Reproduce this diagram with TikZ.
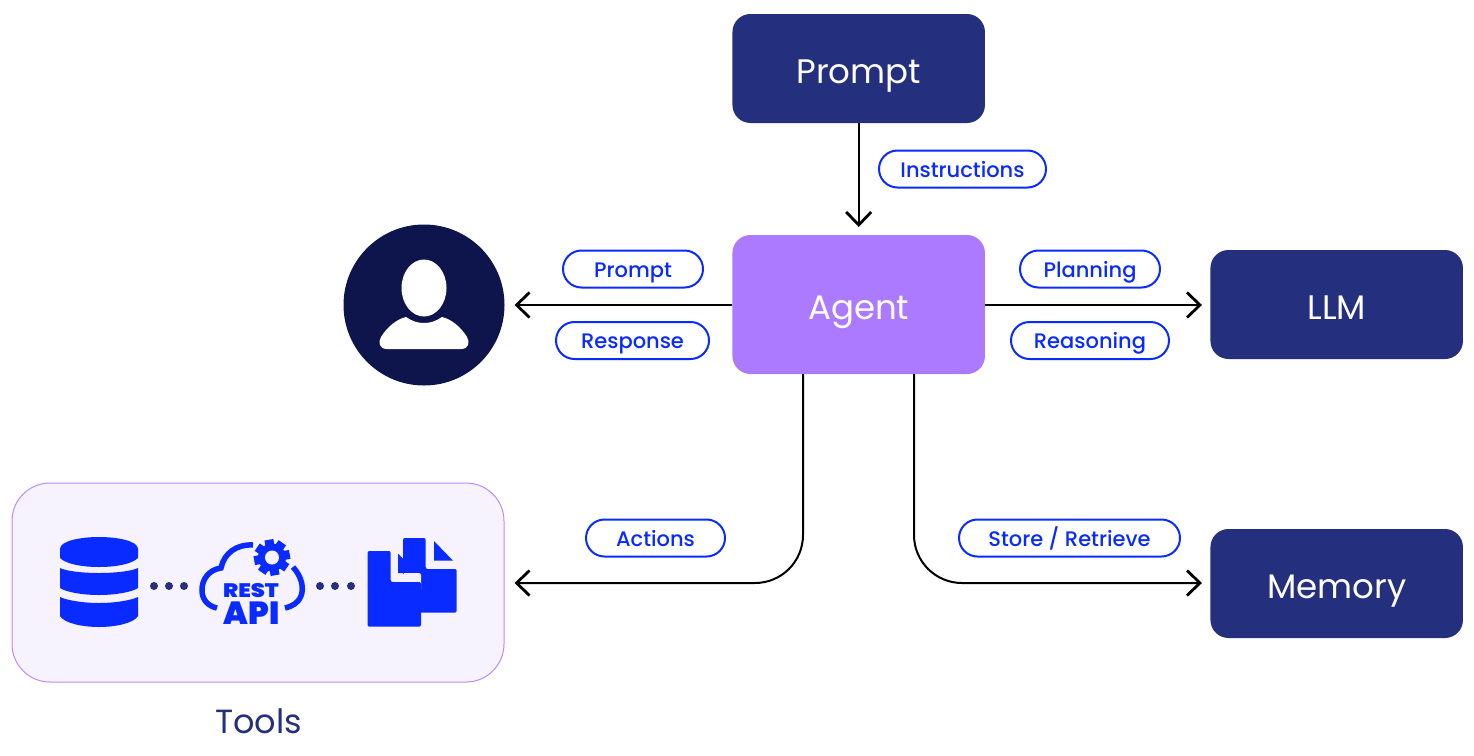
\documentclass[tikz,border=0pt]{standalone}
\usepackage{fontspec}
\setmainfont{Poppins}
\newfontfamily\medfont{Poppins Medium}
\newfontfamily\blackfont{Poppins Black}
\usetikzlibrary{arrows.meta}
\definecolor{navy}{HTML}{24307D}
\definecolor{deep}{HTML}{0E154D}
\definecolor{violet}{HTML}{AB7AFF}
\definecolor{blu}{HTML}{0A2BFF}
\definecolor{pale}{HTML}{F6F3FE}
\definecolor{edge}{HTML}{B98CFF}
\tikzset{
  x=1pt,y=-1pt,
  box/.style={rectangle,rounded corners=18pt,minimum width=252.5pt,minimum height=109pt,outer sep=0pt,fill=navy,text=white,text height=29pt,text depth=0pt,inner ysep=0pt,font=\fontsize{34}{40}\selectfont},
  pill/.style={rectangle,rounded corners=18.5pt,minimum height=37pt,outer sep=0pt,draw=blu,line width=2pt,fill=white,text=blu,text height=16.5pt,text depth=0pt,font=\fontsize{21}{26}\medfont,inner sep=0pt},
  conn/.style={draw=black,line width=2pt,-{Straight Barb[length=13pt,width=25pt,line width=2.8pt]}},
  icon/.style={fill=blu,draw=none},
}
\begin{document}
\begin{tikzpicture}
\useasboundingbox (0,0) rectangle (1474,755);
% boxes
\node[box] (prompt) at (858.7,68.5) {Prompt};
\node[box,fill=violet,minimum height=139pt] (agent) at (858.7,304.5) {Agent};
\node[box] (llm) at (1336.7,304.5) {LLM};
\node[box] (memory) at (1336.7,583.5) {Memory};
\node[circle,fill=deep,minimum size=161pt,inner sep=0pt,outer sep=0pt] (user) at (424,305) {};
\node[rectangle,rounded corners=38pt,draw=edge,line width=1pt,fill=pale,minimum width=492pt,minimum height=199pt,outer sep=0pt] (tools) at (258,582.5) {};
\node[text=navy,font=\fontsize{33.5}{40}\selectfont] (toolslabel) at (258.5,721) {Tools};
% connector ends
\coordinate (userend) at (514.5,305);
\coordinate (llmend) at (1202,305);
\coordinate (toolsend) at (514.5,583);
\coordinate (memend) at (1202,583);
\coordinate (agentend) at (858.7,227);
\coordinate (agentL) at (803,374);
\coordinate (agentR) at (914,374);
\coordinate (cornerL) at (803,583);
\coordinate (cornerR) at (914,583);
\draw[conn] (prompt.south) -- (agentend);
\draw[conn] (agent.west |- userend) -- (userend);
\draw[conn] (agent.east |- llmend) -- (llmend);
\draw[conn,rounded corners=48pt] (agentL) -- (cornerL) -- (toolsend);
\draw[conn,rounded corners=48pt] (agentR) -- (cornerR) -- (memend);
% pills
\node[pill,minimum width=167pt] (p1) at (962.5,169) {Instructions};
\node[pill,minimum width=140pt] (p2) at (633,269) {Prompt};
\node[pill,minimum width=153pt] (p3) at (632.5,340.5) {Response};
\node[pill,minimum width=140pt] (p4) at (1090,269) {Planning};
\node[pill,minimum width=158pt] (p5) at (1090,340.5) {Reasoning};
\node[pill,minimum width=139pt] (p6) at (655.5,538) {Actions};
\node[pill,minimum width=221pt] (p7) at (1069.5,538) {Store / Retrieve};
% user icon
\fill[white] (424,288) ellipse (22.5pt and 28.5pt);
\fill[white] (387,349) .. controls (379,349) and (378,342) .. (381,337)
  .. controls (387,327) and (397,319) .. (406,317)
  .. controls (412,321) and (417,323) .. (424,323)
  .. controls (431,323) and (436,321) .. (442,317)
  .. controls (451,319) and (461,327) .. (467,337)
  .. controls (470,342) and (469,349) .. (461,349) -- cycle;
% database
\fill[icon] (60,549) .. controls (60,541) and (80,537) .. (99,537) .. controls (118,537) and (138,541) .. (138,549)
  -- (138,558) .. controls (132,564) and (116,567) .. (99,567) .. controls (82,567) and (66,564) .. (60,558) -- cycle;
\fill[icon] (60,568) .. controls (66,571) and (82,573) .. (99,573) .. controls (116,573) and (132,571) .. (138,568)
  -- (138,588) .. controls (132,592) and (116,595) .. (99,595) .. controls (82,595) and (66,592) .. (60,588) -- cycle;
\fill[icon] (60,597) .. controls (66,600) and (82,603) .. (99,603) .. controls (116,603) and (132,600) .. (138,597)
  -- (138,616) .. controls (134,623) and (116,627) .. (99,627) .. controls (82,627) and (64,623) .. (60,616) -- cycle;
% dots
\foreach \xx in {154,169,184,320,335,351} \fill[navy] (\xx,586) circle (4pt);
% cloud
\draw[blu,line width=5.5pt] (253,545) .. controls (237,544) and (224,553) .. (221,568)
  .. controls (208,570) and (202,580) .. (202,590) .. controls (202,600) and (208,606) .. (217,608);
\draw[blu,line width=5.5pt] (293,567) .. controls (302,577) and (304,588) .. (301,596) .. controls (298,603) and (293,606) .. (285,608);
% gear
\fill[blu] (272,557.5) circle (14pt);
\foreach \a in {0,45,...,315} \fill[blu,rotate around={\a+10:(272,557.5)}] (267.5,539.5) rectangle (276.5,548);
\fill[pale] (272,557.5) circle (7pt);
\node[anchor=base,inner sep=0pt,text=blu,font=\fontsize{19.5}{20}\blackfont] (rest) at (251,597) {\scalebox{1.16}[1]{REST}};
\node[anchor=base,inner sep=0pt,text=blu,font=\fontsize{32}{32}\blackfont] (api) at (251.5,624) {API};
% documents
\fill[icon,rounded corners=2pt] (403,538) -- (425.7,538) -- (425.7,569) -- (456.7,569) -- (456.7,612.7) -- (403,612.7) -- cycle;
\fill[icon] (434,541) -- (453,560.7) -- (434,560.7) -- cycle;
\fill[pale,rounded corners=2pt] (403,573) rectangle (421,592);
\fill[icon] (398,553.5) -- (403,558.5) -- (403,573) -- (398,573) -- cycle;
\fill[icon,rounded corners=2pt] (367.5,551) -- (390.7,551) -- (390.7,582) -- (421,582) -- (421,626.7) -- (367.5,626.7) -- cycle;
\end{tikzpicture}
\end{document}
